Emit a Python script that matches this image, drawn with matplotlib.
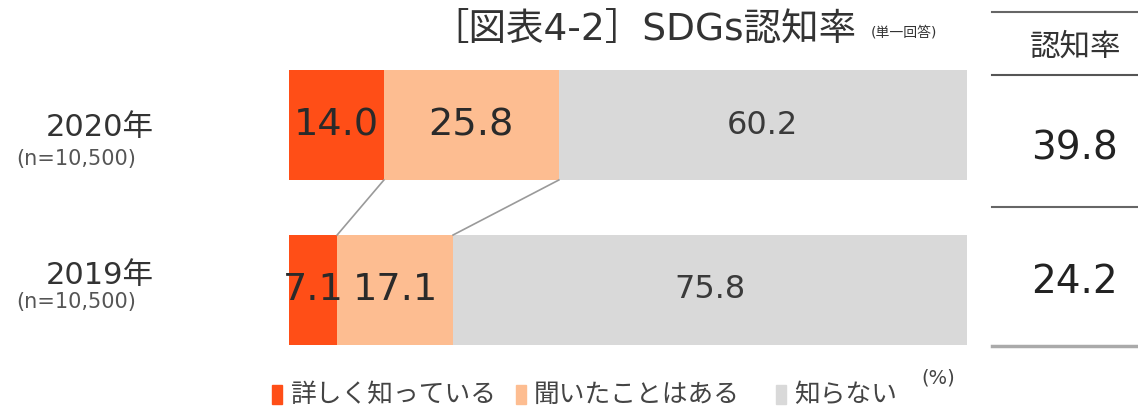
import matplotlib
matplotlib.use('Agg')
import matplotlib.pyplot as plt

plt.rcParams['font.family'] = ['DejaVu Sans', 'Noto Sans CJK JP']

# data
years = ['2019年', '2020年']
sample_labels = ['(n=10,500)', '(n=10,500)']
series_names = ['詳しく知っている', '聞いたことはある', '知らない']
detailed = [7.1, 14.0]
heard = [17.1, 25.8]
unknown = [75.8, 60.2]
awareness = [24.2, 39.8]

colors = ['#FF4E17', '#FDBD91', '#D9D9D9']
W, H = 1138, 408

fig = plt.figure(figsize=(W / 100, H / 100), dpi=100)
ax = fig.add_axes([289 / W, (H - 345) / H, 678 / W, 275 / H])
ax.set_xlim(0, 100)
ax.set_ylim(-1 / 3, 4 / 3)
ax.axis('off')

bar_h = 2 / 3
ypos = [0, 1]
left = [0, 0]
for i, (vals, col) in enumerate(zip([detailed, heard, unknown], colors)):
    ax.barh(ypos, vals, left=left, height=bar_h, color=col, edgecolor='none')
    for y, l, v in zip(ypos, left, vals):
        fs = 23 if i == 2 else 27.5
        ax.text(l + v / 2, y, f'{v:.1f}', ha='center', va='center',
                fontsize=fs, color='#2a2a2a' if i < 2 else '#3a3a3a')
    left = [a + b for a, b in zip(left, vals)]

# connector lines between bars
c1 = detailed
c2 = [d + h for d, h in zip(detailed, heard)]
for c in (c1, c2):
    ax.plot([c[1], c[0]], [1 - bar_h / 2, bar_h / 2], color='#9A9A9A', lw=1.2)

# year labels
for yy, ny, yr, n in zip([276, 127], [302, 159], years, sample_labels):
    fig.text(100 / W, 1 - yy / H, yr, ha='center', va='center', fontsize=22, color='#333333')
    fig.text(76 / W, 1 - ny / H, n, ha='center', va='center', fontsize=15, color='#555555')

# title
fig.text(644 / W, 1 - 30 / H, '［図表4-2］SDGs認知率', ha='center', va='center',
         fontsize=27, color='#333333')
fig.text(904 / W, 1 - 33 / H, '(単一回答)', ha='center', va='center',
         fontsize=10, color='#333333')

# right table
for yl, col, lw in [(12, '#666666', 1.5), (75, '#555555', 1.5),
                    (207, '#666666', 1.5), (346, '#AAAAAA', 2.5)]:
    fig.add_artist(plt.Line2D([992 / W, 1], [1 - yl / H, 1 - yl / H], color=col, lw=lw))
fig.text(1076 / W, 1 - 47 / H, '認知率', ha='center', va='center', fontsize=22, color='#333333')
for yv, v in zip([282, 148], awareness):
    fig.text(1074 / W, 1 - yv / H, f'{v:.1f}', ha='center', va='center',
             fontsize=28, color='#222222')

# legend
lx = [272, 516, 776]
for x, name, col in zip(lx, series_names, colors):
    fig.add_artist(plt.Rectangle((x / W, 1 - 404 / H), 10 / W, 19 / H, color=col,
                                 transform=fig.transFigure))
    fig.text((x + 18) / W, 1 - 395 / H, name, ha='left', va='center',
             fontsize=18.5, color='#444444')
fig.text(938 / W, 1 - 378 / H, '(%)', ha='center', va='center', fontsize=14, color='#444444')

fig.savefig('out.png', dpi=100)
